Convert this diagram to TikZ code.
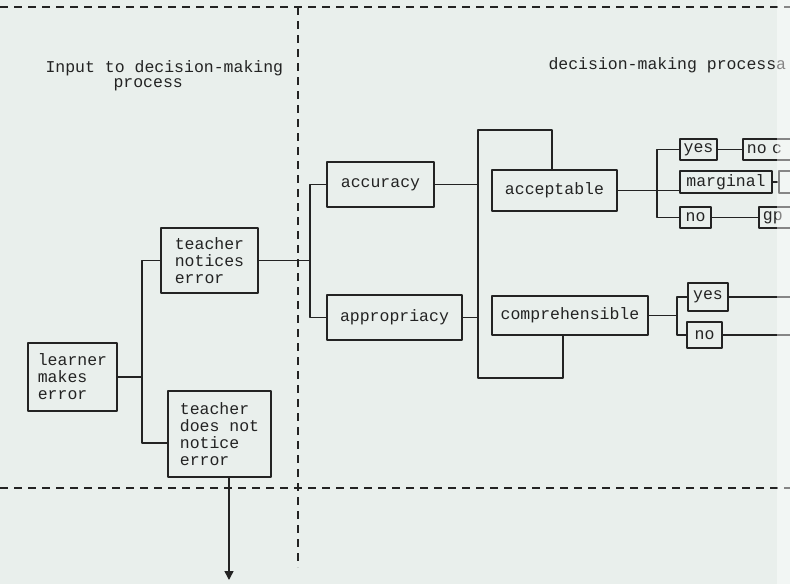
\documentclass[tikz,border=0pt]{standalone}
\usepackage{fontspec}
\setmonofont{Liberation Mono}
\usepackage{tikz}
\usetikzlibrary{calc}
\usetikzlibrary{arrows.meta}
\definecolor{paper}{RGB}{233,239,236}
\definecolor{ink}{RGB}{35,35,35}

\begin{document}
\begin{tikzpicture}[x=1pt, y=-1pt, line join=round,
    every node/.style={font=\ttfamily\fontsize{16.5}{17}\selectfont, text=ink},
    box/.style={draw=ink, line width=1.7pt, inner sep=2pt, align=left},
    cutbox/.style={box, anchor=west, inner xsep=4pt, text width=62pt},
    wire/.style={draw=ink, line width=1.5pt},
    divider/.style={draw=ink, line width=1.3pt, dash pattern=on 8pt off 6pt}]
  \useasboundingbox (0,0) rectangle (790,584);
  \fill[paper] (0,0) rectangle (790,584);
  \clip (0,0) rectangle (790,584);

  % dividers
  \draw[divider] (0,7) -- (790,7);
  \draw[divider] (0,488) -- (790,488);
  \draw[divider] (298,7) -- (298,567);

  \node[anchor=west] (inputA) at (42,68) {Input to decision-making};
  \node[anchor=west] (inputB) at (110,85) {process};
  \node[anchor=west] (procA) at (545,65) {decision-making processa};

  % boxes
  \node[box, minimum width=89, minimum height=68] (learner) at (72.5,377) {learner\\makes\\error};
  \node[box, minimum width=97, minimum height=65] (notices) at (209.5,260.5) {teacher\\notices\\error};
  \node[box, minimum width=103, minimum height=86] (missed) at (219.5,434) {teacher\\does not\\notice\\error};
  \node[box, minimum width=107, minimum height=45] (accuracy) at (380.5,184.5) {accuracy};
  \node[box, minimum width=135, minimum height=45] (appropriacy) at (394.5,317.5) {appropriacy};
  \node[box, minimum width=125, minimum height=41] (acceptable) at (554.5,190.5) {acceptable};
  \node[box, minimum width=156, minimum height=39] (comprehensible) at (570,315.5) {comprehensible};
  \node[box, minimum width=37, minimum height=21] (yesA) at (698.5,149.5) {yes};
  \node[box, minimum width=92, minimum height=22] (marginal) at (726,182) {marginal};
  \node[box, minimum width=31, minimum height=21] (noA) at (695.5,217.5) {no};
  \node[cutbox, minimum height=21] (noc) at (742,149.5) {no c};
  \node[cutbox, minimum height=22] (margnext) at (778,182) {};
  \node[cutbox, minimum height=21] (gp) at (758,217.5) {gp};
  \node[box, minimum width=40, minimum height=28] (yesB) at (708,297) {yes};
  \node[box, minimum width=35, minimum height=26] (noB) at (704.5,335) {no};

  % connectors
  \coordinate (j1) at (142,377);
  \coordinate (j2) at (310,260.5);
  \coordinate (loopT) at (478,130);
  \coordinate (loopB) at (478,378);
  \coordinate (j4) at (657,190.5);
  \coordinate (j5) at (677,315.5);
  \coordinate (yesBend) at (790,300);
  \coordinate (noBend) at (790,335);
  \coordinate (out) at (229,580);

  \draw[wire] (learner.east) -- (j1);
  \draw[wire] (notices.west) -| (j1) |- ([yshift=-9pt]missed.west);
  \draw[wire] (notices.east) -- (j2);
  \draw[wire] (accuracy.west) -| (j2) |- (appropriacy.west);
  \draw[wire] (accuracy.east) -- (accuracy.east -| loopT);
  \draw[wire] (appropriacy.east) -- (appropriacy.east -| loopT);
  \draw[wire] ([xshift=-2.5pt]acceptable.north) |- (loopT) -- (loopB) -| ([xshift=-7pt]comprehensible.south);
  \draw[wire] (acceptable.east) -- (acceptable.east -| marginal.west);
  \draw[wire] (yesA.west) -| (j4) |- (noA.west);
  \draw[wire] (yesA.east) -- (noc.west);
  \draw[wire] (marginal.east) -- (margnext.west);
  \draw[wire] (noA.east) -- (gp.west);
  \draw[wire] (comprehensible.east) -- (j5);
  \draw[wire] (yesB.west) -| (j5) |- (noB.west);
  \draw[wire] (yesB.east) -- (yesB.east -| yesBend);
  \draw[wire] (noB.east) -- (noBend);
  \draw[wire, -{Triangle[length=9pt, width=9pt]}] (missed.south -| out) -- (out);

  \fill[white, opacity=0.45] (777,0) rectangle (790,584);
\end{tikzpicture}
\end{document}
